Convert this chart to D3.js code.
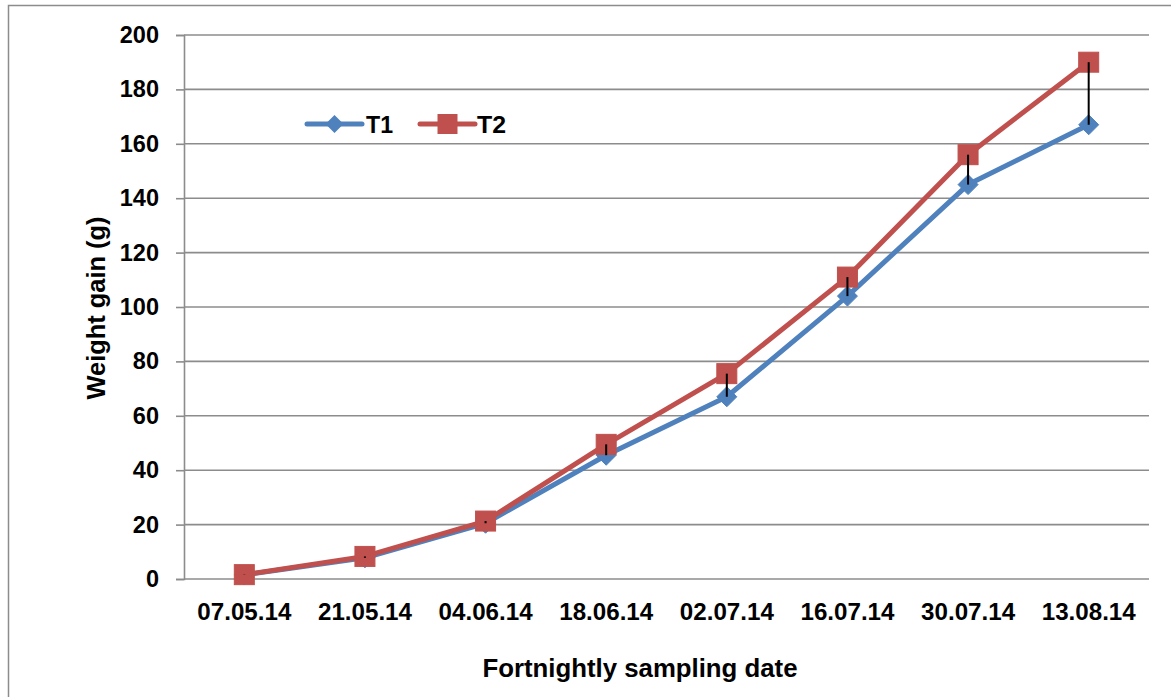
<!DOCTYPE html>
<html>
<head>
<meta charset="utf-8">
<script src="https://cdn.jsdelivr.net/npm/d3@7"></script>
<style>
  html, body { margin: 0; padding: 0; background: #fff; }
  svg { display: block; }
  text { font-family: "Liberation Sans", Arial, sans-serif; font-weight: bold; fill: #000; }
</style>
</head>
<body>
<svg id="chart" width="1171" height="697"></svg>
<script>
// Sampling dates (fortnightly)
const dates = ["07.05.14", "21.05.14", "04.06.14", "18.06.14", "02.07.14", "16.07.14", "30.07.14", "13.08.14"];
// Mean weight gain (g) per treatment
const t1 = [1.5, 7.8, 20.5, 45.5, 67, 104, 145, 167];
const t2 = [1.6, 8.3, 21.3, 49.5, 75.5, 111, 156, 190];
const yTicks = [0, 20, 40, 60, 80, 100, 120, 140, 160, 180, 200];

const svg = d3.select("#chart");
const W = 1171, H = 697;
const plot = { left: 184, right: 1149, top: 35, bottom: 579 };
const blue = "#4F81BD", red = "#C0504D", grid = "#8C8C8C";

// Outer frame of the chart area
svg.append("rect")
  .attr("x", 8.5).attr("y", 5.5)
  .attr("width", W + 20).attr("height", H + 20)
  .attr("fill", "none").attr("stroke", "#8C8C8C").attr("stroke-width", 1.5);

const x = d3.scaleBand().domain(dates).range([plot.left, plot.right]).padding(0);
const y = d3.scaleLinear().domain([0, 200]).range([plot.bottom, plot.top]);
const cx = d => x(d) + x.bandwidth() / 2;

// Horizontal gridlines
svg.append("g").selectAll("line").data(yTicks).join("line")
  .attr("x1", plot.left).attr("x2", plot.right)
  .attr("y1", d => y(d)).attr("y2", d => y(d))
  .attr("stroke", grid).attr("stroke-width", 1.6);

// Y axis
const yAxis = svg.append("g")
  .attr("transform", `translate(${plot.left},0)`)
  .call(d3.axisLeft(y).tickValues(yTicks).tickSize(8).tickPadding(17).tickFormat(d3.format("d")));
yAxis.select(".domain").attr("stroke", grid).attr("stroke-width", 1.6);
yAxis.selectAll(".tick line").attr("stroke", grid).attr("stroke-width", 1.6);
yAxis.selectAll(".tick text")
  .style("font-family", "'Liberation Sans', Arial, sans-serif")
  .style("font-weight", "bold").style("font-size", "23.5px").attr("fill", "#000");

// X axis labels
const xAxis = svg.append("g")
  .attr("transform", `translate(0,${plot.bottom})`)
  .call(d3.axisBottom(x).tickSize(0).tickPadding(25));
xAxis.select(".domain").remove();
xAxis.selectAll(".tick text")
  .style("font-family", "'Liberation Sans', Arial, sans-serif")
  .style("font-weight", "bold").style("font-size", "23px").attr("fill", "#000")
  .attr("textLength", 94).attr("lengthAdjust", "spacingAndGlyphs");

// Axis titles
svg.append("text")
  .attr("x", 640).attr("y", 677)
  .attr("text-anchor", "middle")
  .style("font-size", "25px")
  .attr("textLength", 315).attr("lengthAdjust", "spacingAndGlyphs")
  .text("Fortnightly sampling date");

svg.append("text")
  .attr("transform", "translate(105,308) rotate(-90)")
  .attr("text-anchor", "middle")
  .style("font-size", "25px")
  .attr("textLength", 183).attr("lengthAdjust", "spacingAndGlyphs")
  .text("Weight gain (g)");

const line = d3.line().x((d, i) => cx(dates[i])).y(d => y(d));

// Series lines
svg.append("path").datum(t1).attr("d", line)
  .attr("fill", "none").attr("stroke", blue).attr("stroke-width", 5).attr("stroke-linejoin", "round");
svg.append("path").datum(t2).attr("d", line)
  .attr("fill", "none").attr("stroke", red).attr("stroke-width", 5).attr("stroke-linejoin", "round");

// T1 diamond markers
const diamond = s => `M0,${-s}L${s},0L0,${s}L${-s},0Z`;
svg.append("g").selectAll("path").data(t1).join("path")
  .attr("transform", (d, i) => `translate(${cx(dates[i])},${y(d)})`)
  .attr("d", diamond(10)).attr("fill", blue).attr("stroke", blue).attr("stroke-width", 1);

// T2 square markers
svg.append("g").selectAll("rect").data(t2).join("rect")
  .attr("x", (d, i) => cx(dates[i]) - 10).attr("y", d => y(d) - 10)
  .attr("width", 20).attr("height", 20)
  .attr("fill", red).attr("stroke", red).attr("stroke-width", 1);

// High-low lines between the two treatments
svg.append("g").selectAll("line").data(dates).join("line")
  .attr("x1", d => cx(d)).attr("x2", d => cx(d))
  .attr("y1", (d, i) => y(Math.max(t1[i], t2[i])))
  .attr("y2", (d, i) => y(Math.min(t1[i], t2[i])))
  .attr("stroke", "#000").attr("stroke-width", 2);

// Legend
const leg = svg.append("g");
leg.append("line").attr("x1", 307).attr("x2", 362).attr("y1", 124).attr("y2", 124)
  .attr("stroke", blue).attr("stroke-width", 5).attr("stroke-linecap", "round");
leg.append("path").attr("transform", "translate(334.5,124)").attr("d", diamond(9)).attr("fill", blue);
leg.append("text").attr("x", 366).attr("y", 133).style("font-size", "24px")
  .attr("textLength", 27).attr("lengthAdjust", "spacingAndGlyphs").text("T1");
leg.append("line").attr("x1", 420).attr("x2", 475).attr("y1", 124).attr("y2", 124)
  .attr("stroke", red).attr("stroke-width", 5).attr("stroke-linecap", "round");
leg.append("rect").attr("x", 437.5).attr("y", 114).attr("width", 20).attr("height", 20).attr("fill", red);
leg.append("text").attr("x", 477).attr("y", 133).style("font-size", "24px")
  .attr("textLength", 29).attr("lengthAdjust", "spacingAndGlyphs").text("T2");
</script>
</body>
</html>
